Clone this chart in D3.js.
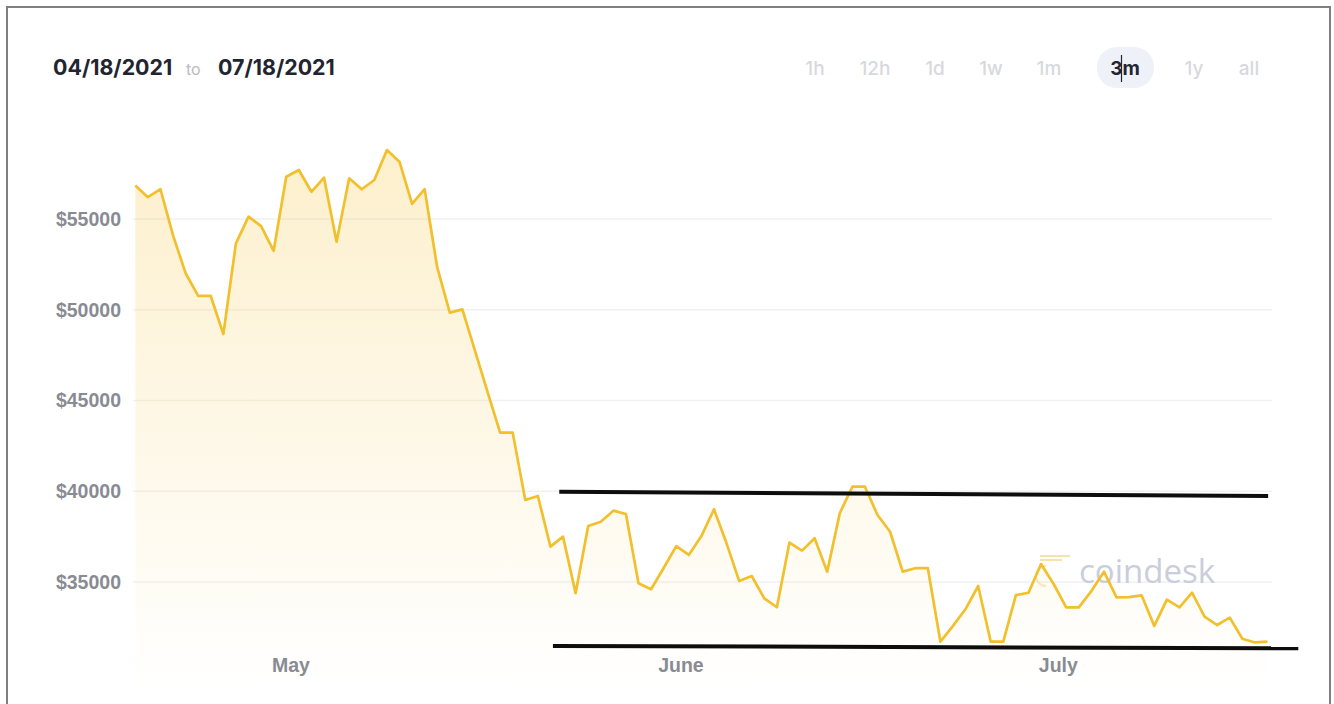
<!DOCTYPE html>
<html>
<head>
<meta charset="utf-8">
<script src="https://cdn.jsdelivr.net/npm/d3@7"></script>
<style>
  html, body { margin: 0; padding: 0; background: #ffffff; }
  svg { display: block; }
</style>
</head>
<body>
<svg id="chart" width="1334" height="704"></svg>
<script>
// ---------- DATA ----------
const startDate = "2021-04-18";   // first daily point
const endDate = "2021-07-17";     // last daily point
const headerFrom = "04/18/2021";
const headerTo = "07/18/2021";
const rangeButtons = ["1h", "12h", "1d", "1w", "1m", "3m", "1y", "all"];
const activeButton = "3m";

// BTC price (USD), one value per day
const prices = [
  56840, 56200, 56640, 54100, 52010, 50760, 50760, 48660, 53660, 55130,
  54610, 53250, 57330, 57700, 56500, 57280, 53750, 57240, 56640, 57150,
  58800, 58160, 55830, 56640, 52330, 49840, 50020, 47750, 45480, 43230,
  43230, 39520, 39740, 36950, 37500, 34380, 38090, 38320, 38930, 38750,
  34930, 34600, 35770, 36980, 36490, 37530, 39010, 37130, 35060, 35330,
  34100, 33610, 37170, 36730, 37410, 35570, 38790, 40250, 40250, 38690,
  37770, 35570, 35760, 35760, 31710, 32580, 33510, 34780, 31710, 31710,
  34280, 34410, 35990, 34890, 33600, 33600, 34500, 35570, 34150, 34170,
  34260, 32580, 34030, 33600, 34410, 33090, 32630, 33040, 31870, 31670,
  31710
];

const yTicks = [35000, 40000, 45000, 50000, 55000];
const xTickDates = ["2021-05-01", "2021-06-01", "2021-07-01"];
const xTickLabels = ["May", "June", "July"];

// hand-drawn channel lines (day offset from start, price)
const resistanceLine = [{ day: 33.7, value: 39975 }, { day: 90.05, value: 39740 }];
const supportLine = [{ day: 33.2, value: 31475 }, { day: 92.45, value: 31350 }];

const watermark = "coindesk";

// ---------- CHART ----------
const svg = d3.select("#chart");
const W = 1334, H = 704;
const pointHour = 16; // daily points sit late in the day, month ticks at midnight

const parse = d3.timeParse("%Y-%m-%d");
const start = d3.timeHour.offset(parse(startDate), pointHour);
const end = d3.timeHour.offset(parse(endDate), pointHour);
const dates = prices.map((_, i) => d3.timeDay.offset(start, i));
const data = dates.map((d, i) => ({ date: d, value: prices[i] }));

const x = d3.scaleTime().domain([start, end]).range([135.3, 1267.5]);
const y = d3.scaleLinear().domain([35000, 55000]).range([582, 219]);
const dayToDate = day => new Date(start.getTime() + day * 864e5);

// frame
svg.append("rect").attr("width", W).attr("height", H).attr("fill", "#ffffff");
svg.append("rect")
  .attr("x", 7).attr("y", 7).attr("width", 1323).attr("height", 720)
  .attr("fill", "none").attr("stroke", "#808080").attr("stroke-width", 2);

// gradient for area
const defs = svg.append("defs");
const grad = defs.append("linearGradient")
  .attr("id", "areaGrad").attr("gradientUnits", "userSpaceOnUse")
  .attr("x1", 0).attr("x2", 0).attr("y1", 150).attr("y2", 690);
grad.append("stop").attr("offset", 0).attr("stop-color", "#f6c43c").attr("stop-opacity", 0.26);
grad.append("stop").attr("offset", 1).attr("stop-color", "#f6c43c").attr("stop-opacity", 0.0);

// gridlines
svg.append("g").selectAll("line").data(yTicks).join("line")
  .attr("x1", 133).attr("x2", 1272)
  .attr("y1", d => y(d)).attr("y2", d => y(d))
  .attr("stroke", "#f1f1f3").attr("stroke-width", 1.5);

// area
const area = d3.area().x(d => x(d.date)).y0(685).y1(d => y(d.value));
svg.append("path").datum(data).attr("d", area).attr("fill", "url(#areaGrad)");

// y axis
const yAxis = d3.axisLeft(y).tickValues(yTicks).tickSize(0).tickPadding(0)
  .tickFormat(d => "$" + d);
const gy = svg.append("g").attr("transform", "translate(121,0)").call(yAxis);
gy.select(".domain").remove();
gy.selectAll("text")
  .attr("fill", "#898b93")
  .style("font-family", "'Liberation Sans', Arial, sans-serif")
  .style("font-weight", "bold")
  .style("font-size", "19.5px");

// x axis
const xAxis = d3.axisBottom(x).tickValues(xTickDates.map(parse)).tickSize(0).tickPadding(8)
  .tickFormat((d, i) => xTickLabels[i]);
const gx = svg.append("g").attr("transform", "translate(0,650)").call(xAxis);
gx.select(".domain").remove();
gx.selectAll("text")
  .attr("fill", "#898b93")
  .style("font-family", "'Liberation Sans', Arial, sans-serif")
  .style("font-weight", "bold")
  .style("font-size", "19.5px");

// watermark
const wm = svg.append("g");
wm.append("path")
  .attr("d", "M1040,556 L1070,556 M1040,560 L1062,560")
  .attr("stroke", "#f7e3a8").attr("stroke-width", 2).attr("fill", "none");
wm.append("path")
  .attr("d", "M1046,566 A9,9 0 1,0 1046,586")
  .attr("stroke", "#f7e7b8").attr("stroke-width", 2).attr("fill", "none");
wm.append("text")
  .attr("x", 1079).attr("y", 583)
  .attr("fill", "#cacddb")
  .style("font-family", "'Open Sans', 'Liberation Sans', sans-serif")
  .style("font-size", "33px")
  .text(watermark);

// price line
const line = d3.line().x(d => x(d.date)).y(d => y(d.value));
svg.append("path").datum(data).attr("d", line)
  .attr("fill", "none").attr("stroke", "#f1c02c").attr("stroke-width", 2.7)
  .attr("stroke-linejoin", "round");

// channel lines
const chLine = d3.line().x(d => x(dayToDate(d.day))).y(d => y(d.value));
[resistanceLine, supportLine].forEach(seg => {
  svg.append("path").datum(seg).attr("d", chLine)
    .attr("fill", "none").attr("stroke", "#0d0d0d").attr("stroke-width", 4);
});

// header
const hFont = "Inter, 'Liberation Sans', sans-serif";
svg.append("text").attr("x", 53).attr("y", 75)
  .style("font-family", hFont).style("font-weight", 700).style("font-size", "21.4px")
  .attr("fill", "#22252f").text(headerFrom);
svg.append("text").attr("x", 186).attr("y", 75)
  .style("font-family", hFont).style("font-size", "16px")
  .attr("fill", "#b9bbc0").text("to");
svg.append("text").attr("x", 218).attr("y", 75)
  .style("font-family", hFont).style("font-weight", 700).style("font-size", "21.4px")
  .attr("fill", "#22252f").text(headerTo);

// range buttons
const btnCenters = [815, 875, 935, 991, 1049, 1125, 1194, 1249];
svg.append("rect").attr("x", 1097).attr("y", 47).attr("width", 57).attr("height", 41)
  .attr("rx", 20).attr("fill", "#eef1f7");
svg.append("g").selectAll("text").data(rangeButtons).join("text")
  .attr("x", (d, i) => btnCenters[i]).attr("y", 75)
  .attr("text-anchor", "middle")
  .style("font-family", hFont)
  .style("font-size", "19px")
  .style("font-weight", d => d === activeButton ? 700 : 500)
  .attr("fill", d => d === activeButton ? "#22252f" : "#d7d9de")
  .text(d => d);
// text cursor inside active button
svg.append("line").attr("x1", 1121.5).attr("x2", 1121.5).attr("y1", 55).attr("y2", 82)
  .attr("stroke", "#22252f").attr("stroke-width", 1.2);
</script>
</body>
</html>
